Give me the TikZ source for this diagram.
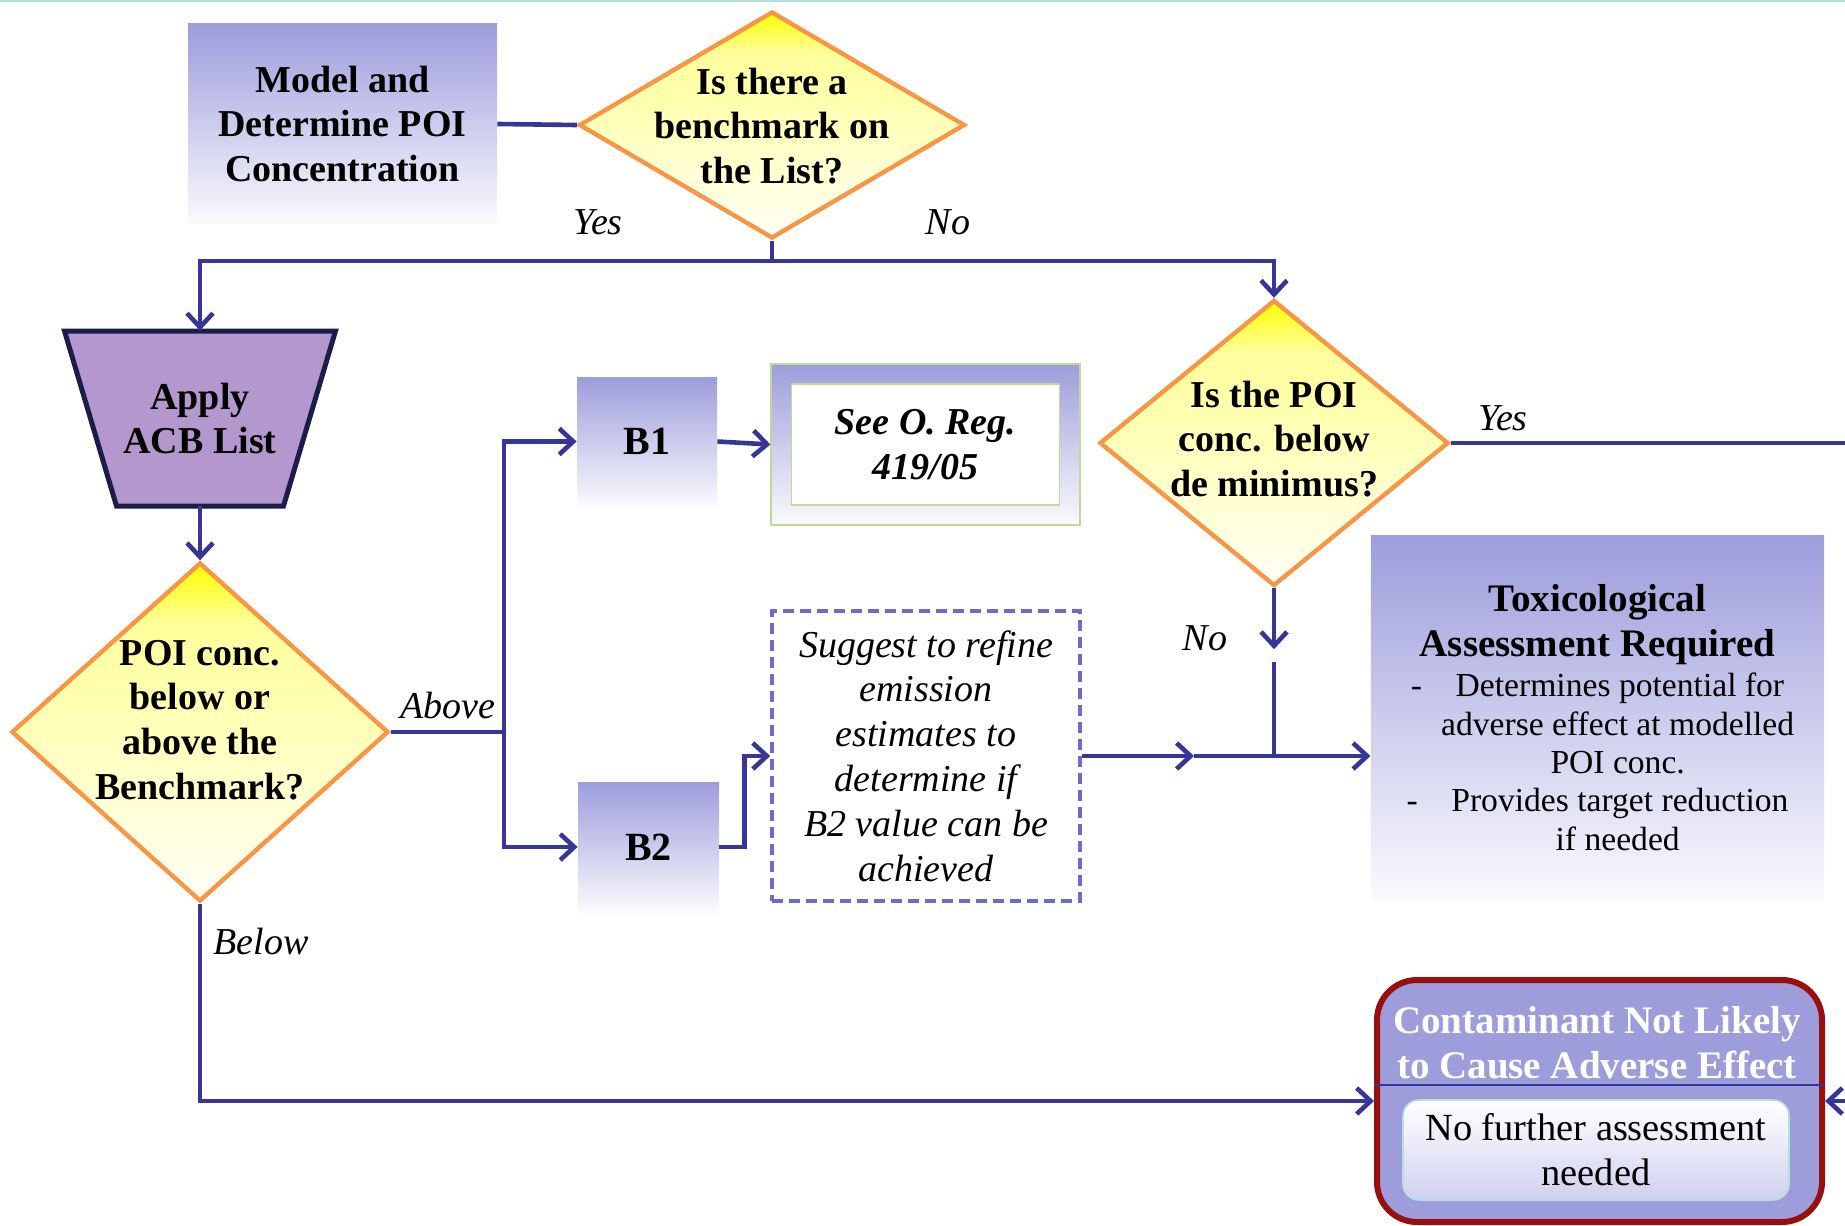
\documentclass[tikz,border=0pt]{standalone}
\usepackage{fontspec}
\setmainfont{Liberation Serif}
\usetikzlibrary{arrows.meta}
\usetikzlibrary{shapes.geometric}
\definecolor{lavtop}{HTML}{9D9DDC}
\definecolor{lavbot}{HTML}{FAFAFE}
\definecolor{linkblue}{HTML}{363699}
\definecolor{diamtop}{HTML}{FFFF00}
\definecolor{diampale}{HTML}{FFFF9C}
\definecolor{diammid}{HTML}{FFFFBA}
\definecolor{diambot}{HTML}{FFFFF6}
\definecolor{diamedge}{HTML}{F79646}
\definecolor{acbfill}{HTML}{B497CC}
\definecolor{acbedge}{HTML}{1C1C4A}
\definecolor{regreen}{HTML}{C3D69B}
\definecolor{dashblue}{HTML}{6C6CCC}
\definecolor{endred}{HTML}{990F0F}
\definecolor{noteteal}{HTML}{B4E0E0}
\definecolor{notebot}{HTML}{D0D0F0}
\definecolor{topteal}{HTML}{B4DDE0}
\pgfdeclareverticalshading{diamshade}{100bp}{%
	color(0bp)=(diambot); color(25bp)=(diambot); color(50bp)=(diammid);
	color(66bp)=(diampale); color(75bp)=(diamtop); color(100bp)=(diamtop)}
\tikzset{
	link/.style={draw=linkblue, line width=2.3pt, >={Straight Barb[length=7pt,width=13pt]}},
	fadebox/.style={top color=lavtop, bottom color=lavbot, align=center,
		font=\fontsize{19}{22.4}\selectfont\bfseries},
	decision/.style={shape=diamond, inner sep=0pt, draw=diamedge, line width=2.2pt,
		shading=diamshade},
	qtext/.style={align=center, font=\fontsize{19}{22.4}\selectfont\bfseries},
	branch/.style={font=\fontsize{19}{22.4}\selectfont\itshape}
}

\begin{document}
\begin{tikzpicture}[x=0.5pt, y=-0.5pt]
	\useasboundingbox (0,0) rectangle (1845,1225);
	\draw[color=topteal, line width=0.8pt] (0,1) -- (1845,1);

	% Model and first question
	\node[fadebox, minimum width=154.5pt, minimum height=100pt] (model)
		at (342.5,124) {Model and\\Determine POI\\Concentration};
	\node[decision, minimum width=193pt, minimum height=113.5pt] (listq)
		at (772,125) {};
	\node[qtext] (listqtext)
		at (772,126) {Is there a\\benchmark on\\the List?};
	\node[branch] (yesa) at (598,222) {Yes};
	\node[branch] (noa) at (948,222) {No};
	\coordinate (fork) at (772,261);

	% ACB list branch
	\filldraw[draw=acbedge, fill=acbfill, line width=2.5pt, line join=miter]
		(64.5,331) -- (335.5,331) -- (283.5,506) -- (116.5,506) -- cycle;
	\node[minimum width=135.5pt, minimum height=87.5pt, align=center,
		font=\fontsize{19}{22.4}\selectfont\bfseries] (acb)
		at (200,418.5) {Apply\\ACB List};
	\node[decision, minimum width=188.5pt, minimum height=169.5pt] (benchq)
		at (200,732) {};
	\node[qtext] (benchqtext)
		at (200,720) {POI conc.\\below or\\above the\\Benchmark?};
	\node[branch] (above) at (448,705) {Above};
	\node[branch] (below) at (261,941) {Below};
	\coordinate (split) at (504,732);

	% B1 / B2
	\node[fadebox, minimum width=70pt, minimum height=64.5pt,
		font=\fontsize{20}{24}\selectfont\bfseries] (b1)
		at (647,441.5) {B1};
	\node[fadebox, minimum width=70.5pt, minimum height=65pt,
		font=\fontsize{20}{24}\selectfont\bfseries] (b2)
		at (648.5,847) {B2};
	\node[fadebox, draw=regreen, line width=0.6pt,
		minimum width=154.5pt, minimum height=80.5pt] (reg)
		at (925.5,444.5) {};
	\node[draw=regreen, fill=white, line width=0.6pt, align=center,
		minimum width=134pt, minimum height=60.5pt,
		font=\fontsize{19}{22.4}\selectfont\bfseries\itshape] (regtext)
		at (reg) {See O. Reg.\\419/05};
	\node[draw=dashblue, line width=1.8pt, dash pattern=on 5.5pt off 3pt,
		minimum width=154pt, minimum height=145pt, inner sep=2pt, align=center,
		font=\fontsize{19}{22.4}\selectfont\itshape] (refine)
		at (926,756) {Suggest to refine\\emission\\estimates to\\determine if\\B2 value can be\\achieved};

	% de minimus question
	\node[decision, minimum width=174.5pt, minimum height=143pt] (deminq)
		at (1274,443) {};
	\node[qtext] (deminqtext)
		at (1274,439) {Is the POI\\conc. below\\de minimus?};
	\node[branch] (yesb) at (1503,418) {Yes};
	\node[branch] (nob) at (1205,638) {No};
	\coordinate (mid) at (1194,756);
	\coordinate (join) at (1274,756);

	% Outcomes
	\node[fadebox, align=flush center, text width=220pt,
		minimum width=224.5pt, minimum height=182.5pt] (tox)
		at (1597.5,717.5) {\fontsize{19.5}{22.5}\selectfont Toxicological\\Assessment Required\par
			\vspace{1pt}\fontsize{16.8}{19.2}\selectfont\mdseries
			-\quad Determines potential for\\\hspace*{1.2em}adverse effect at modelled\\\hspace*{1.2em}POI conc.\\
			-\quad Provides target reduction\\\hspace*{1.2em}if needed\par};
	\node[draw=endred, fill=lavtop, line width=3pt, rounded corners=20pt,
		minimum width=222.5pt, minimum height=121pt] (endbox)
		at (1599.5,1101) {};
	\node[text=white, align=center,
		font=\fontsize{19.5}{22.4}\selectfont\bfseries] (endtitle)
		at (1597,1043) {Contaminant Not Likely\\to Cause Adverse Effect};
	\draw[color=linkblue, line width=0.6pt]
		(endbox.west |- 0,1085) -- (endbox.east |- 0,1085);
	\node[draw=noteteal, line width=0.8pt, rounded corners=8pt,
		top color=white, bottom color=notebot, align=center,
		minimum width=193pt, minimum height=50pt,
		font=\fontsize{19.2}{22.4}\selectfont] (endnote)
		at (1596,1150) {No further assessment\\needed};

	% Connectors
	\draw[link] (model.east) -- (listq.west);
	\draw[link] (listq.south) -- (fork);
	\draw[link, ->] (fork) -| (acb.north);
	\draw[link, ->] (fork) -| (deminq.north);
	\draw[link, ->] (acb.south) -- (benchq.north);
	\draw[link] (benchq.east) -- (split);
	\draw[link, ->] (split) |- (b1.west);
	\draw[link, ->] (split) |- (b2.west);
	\draw[link, ->] (b1.east) -- (reg.west);
	\draw[link, ->] (b2.east) -- ++(25,0) |- (refine.west);
	\draw[link, ->] (refine.east) -- (mid);
	\draw[link, ->] (mid) -- (tox.west |- mid);
	\draw[link, ->] (deminq.south) -- ++(0,61);
	\draw[link] (join) ++(0,-94) -- (join);
	\draw[link, ->] (deminq.east) -- ++(420,0) |- (endbox.east);
	\draw[link, ->] (benchq.south) |- (endbox.west);
\end{tikzpicture}
\end{document}
